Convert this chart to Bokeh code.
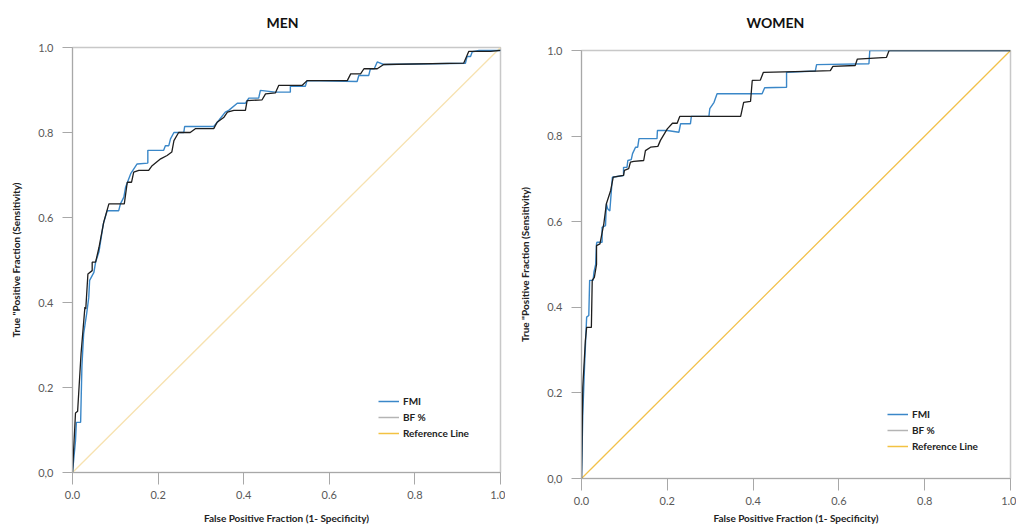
import math

from bokeh.plotting import figure
from bokeh.layouts import row, column
from bokeh.models import FixedTicker, Legend, LegendItem, Range1d, LinearAxis
from bokeh.embed import file_html
from bokeh.resources import INLINE

# ---- ROC data (false positive fraction, true positive fraction) ----
men_fmi_fpr = [0, 0.007, 0.009, 0.019, 0.022, 0.026, 0.033, 0.038, 0.040, 0.05, 0.054, 0.062,
               0.072, 0.081, 0.108, 0.112, 0.12, 0.124, 0.136, 0.151, 0.176, 0.176, 0.213,
               0.217, 0.225, 0.229, 0.237, 0.26, 0.262, 0.33, 0.343, 0.357, 0.365, 0.385,
               0.404, 0.412, 0.435, 0.439, 0.474, 0.509, 0.509, 0.544, 0.548, 0.665, 0.669,
               0.692, 0.696, 0.705, 0.712, 0.727, 0.918, 0.922, 0.93, 0.934, 0.95, 1.0]
men_fmi_tpr = [0, 0.075, 0.118, 0.118, 0.25, 0.326, 0.373, 0.412, 0.452, 0.471, 0.495, 0.52,
               0.585, 0.616, 0.616, 0.632, 0.648, 0.671, 0.703, 0.726, 0.728, 0.758, 0.758,
               0.769, 0.769, 0.785, 0.80, 0.80, 0.814, 0.814, 0.83, 0.848, 0.852, 0.869,
               0.869, 0.881, 0.881, 0.899, 0.895, 0.895, 0.909, 0.909, 0.922, 0.92, 0.934,
               0.934, 0.95, 0.95, 0.966, 0.96, 0.963, 0.979, 0.979, 0.99, 0.993, 0.993]

men_bf_fpr = [0, 0.007, 0.012, 0.020, 0.029, 0.031, 0.036, 0.046, 0.046, 0.054, 0.062, 0.073,
              0.085, 0.121, 0.128, 0.138, 0.143, 0.155, 0.178, 0.186, 0.206, 0.221, 0.232,
              0.237, 0.248, 0.275, 0.287, 0.33, 0.338, 0.354, 0.362, 0.377, 0.404, 0.408,
              0.443, 0.451, 0.474, 0.482, 0.537, 0.548, 0.642, 0.65, 0.673, 0.681, 0.712,
              0.727, 0.914, 0.926, 0.977, 1.0]
men_bf_tpr = [0, 0.14, 0.144, 0.28, 0.389, 0.385, 0.467, 0.475, 0.495, 0.495, 0.53, 0.589,
              0.632, 0.632, 0.683, 0.683, 0.707, 0.711, 0.711, 0.722, 0.738, 0.746, 0.754,
              0.781, 0.80, 0.80, 0.809, 0.809, 0.824, 0.836, 0.848, 0.852, 0.852, 0.875,
              0.877, 0.891, 0.893, 0.911, 0.911, 0.922, 0.922, 0.938, 0.938, 0.95, 0.95,
              0.96, 0.963, 0.991, 0.991, 0.993]

women_fmi_fpr = [0, 0.003, 0.007, 0.012, 0.017, 0.019, 0.027, 0.029, 0.033, 0.035, 0.036,
                 0.048, 0.048, 0.056, 0.058, 0.061, 0.066, 0.072, 0.098, 0.098, 0.106, 0.108,
                 0.116, 0.119, 0.126, 0.131, 0.134, 0.176, 0.177, 0.20, 0.227, 0.231, 0.254,
                 0.256, 0.297, 0.299, 0.309, 0.316, 0.421, 0.427, 0.478, 0.478, 0.545, 0.548,
                 0.67, 0.672, 1.0]
women_fmi_tpr = [0, 0.151, 0.26, 0.377, 0.381, 0.463, 0.463, 0.482, 0.50, 0.548, 0.552,
                 0.552, 0.587, 0.591, 0.642, 0.63, 0.625, 0.704, 0.708, 0.727, 0.727, 0.743,
                 0.745, 0.759, 0.774, 0.774, 0.794, 0.794, 0.813, 0.813, 0.809, 0.829, 0.829,
                 0.846, 0.846, 0.864, 0.879, 0.899, 0.899, 0.913, 0.914, 0.949, 0.952, 0.967,
                 0.969, 1.0, 1.0]

women_bf_fpr = [0, 0.003, 0.009, 0.012, 0.023, 0.025, 0.030, 0.035, 0.035, 0.043, 0.052,
                0.058, 0.068, 0.074, 0.098, 0.10, 0.11, 0.114, 0.122, 0.145, 0.149, 0.161,
                0.178, 0.184, 0.20, 0.212, 0.223, 0.229, 0.371, 0.378, 0.394, 0.398, 0.417,
                0.424, 0.545, 0.58, 0.586, 0.638, 0.643, 0.711, 0.717, 1.0]
women_bf_tpr = [0, 0.213, 0.322, 0.353, 0.353, 0.463, 0.47, 0.50, 0.544, 0.548, 0.595,
                0.642, 0.673, 0.704, 0.708, 0.72, 0.724, 0.739, 0.741, 0.743, 0.766, 0.774,
                0.776, 0.79, 0.817, 0.83, 0.83, 0.846, 0.846, 0.879, 0.881, 0.93, 0.931,
                0.949, 0.952, 0.953, 0.963, 0.965, 0.98, 0.984, 1.0, 1.0]

reference_line = [0, 1]

tick_values = [0, 0.2, 0.4, 0.6, 0.8, 1.0]
x_tick_labels = ["0.0", "0.2", "0.4", "0.6", "0.8", "1.0"]
y_tick_labels = ["0,0", "0.2", "0.4", "0.6", "0.8", "1.0"]

legend_labels = ["FMI", "BF %", "Reference Line"]
x_title = "False Positive Fraction (1- Specificity)"
y_title = 'True "Positive Fraction (Sensitivity)'

FONT = "Lato"
BLUE = "#3a87c8"
DARK = "#1e1e1e"
LEGEND_COLORS = [BLUE, "#b4b4b4", "#f3c242"]


def make_panel(title, fmi_x, fmi_y, bf_x, bf_y, ref_color, width, left, right, top, bottom,
               title_left, title_gap, xlabel_standoff, legend_loc):
    p = figure(width=width, height=527, output_backend="svg", toolbar_location=None,
               x_range=Range1d(0, 1), y_range=Range1d(0, 1),
               min_border_left=left, min_border_right=right,
               min_border_top=top, min_border_bottom=bottom)
    p.grid.visible = False
    p.outline_line_color = "#c8c8c8"
    p.outline_line_width = 1.5

    xax = p.below[0]
    yax = p.left[0]
    for ax in (xax, yax):
        ax.ticker = FixedTicker(ticks=tick_values)
        ax.axis_line_color = "#a8a8a8"
        ax.major_tick_line_color = "#a8a8a8"
        ax.major_tick_in = 0
        ax.minor_tick_line_color = None
        ax.major_label_text_font = FONT
        ax.major_label_text_font_size = "11px"
        ax.major_label_text_color = "#595959"
        ax.axis_label_text_font = FONT
        ax.axis_label_text_font_style = "bold"
        ax.axis_label_text_font_size = "10px"
        ax.axis_label_text_color = "#222222"

    xax.major_label_overrides = dict(zip(tick_values, x_tick_labels))
    yax.major_label_overrides = dict(zip(tick_values, y_tick_labels))
    xax.major_tick_out = 12
    xax.major_label_standoff = 6
    yax.major_tick_out = 10
    yax.major_label_standoff = 9
    xax.axis_label = x_title
    yax.axis_label = y_title
    xax.axis_label_standoff = xlabel_standoff
    yax.axis_label_standoff = 13

    # blank top axis (hidden tick, empty label): lifts the heading above the frame
    spacer = LinearAxis(ticker=FixedTicker(ticks=[0.5]), axis_line_color=None,
                        major_tick_in=0, major_tick_out=title_gap, minor_tick_in=0,
                        minor_tick_out=0, major_label_standoff=0,
                        major_label_overrides={0.5: ""}, major_label_text_font_size="1px",
                        major_tick_line_color=None, minor_tick_line_color=None)
    p.add_layout(spacer, "above")

    p.title.text = title
    p.title.align = "left"
    p.title.offset = title_left
    p.title.standoff = 10
    p.title.text_font = FONT
    p.title.text_font_style = "bold"
    p.title.text_font_size = "14px"
    p.title.text_color = "#111111"

    # diagonal chance line, then the two ROC curves
    p.line(reference_line, reference_line, line_color=ref_color, line_width=1.3)
    p.line(fmi_x, fmi_y, line_color=BLUE, line_width=1.4)
    p.line(bf_x, bf_y, line_color=DARK, line_width=1.3)

    # legend keys drawn with the legend's own colours
    keys = [p.line([math.nan], [math.nan], line_color=c, line_width=1.5)
            for c in LEGEND_COLORS]
    legend = Legend(items=[LegendItem(label=lab, renderers=[r])
                           for lab, r in zip(legend_labels, keys)],
                    location=legend_loc, padding=0, margin=0, spacing=2,
                    glyph_width=21, glyph_height=14, label_height=14, label_standoff=4,
                    label_text_font=FONT, label_text_font_style="bold",
                    label_text_font_size="10px", label_text_color="#222222",
                    background_fill_alpha=0, border_line_alpha=0)
    p.add_layout(legend)
    return p


men = make_panel("MEN", men_fmi_fpr, men_fmi_tpr, men_bf_fpr, men_bf_tpr, "#f7e2b0",
                 505, 72, 5, 47, 55, title_left=194, title_gap=12, xlabel_standoff=10,
                 legend_loc=(306, 32))
women = make_panel("WOMEN", women_fmi_fpr, women_fmi_tpr, women_bf_fpr, women_bf_tpr,
                   "#f2c14a", 511, 76, 6, 50, 49, title_left=165, title_gap=15,
                   xlabel_standoff=4, legend_loc=(306, 25))

layout = row(column(men), column(women))
open("out.html", "w").write(file_html(layout, INLINE))
